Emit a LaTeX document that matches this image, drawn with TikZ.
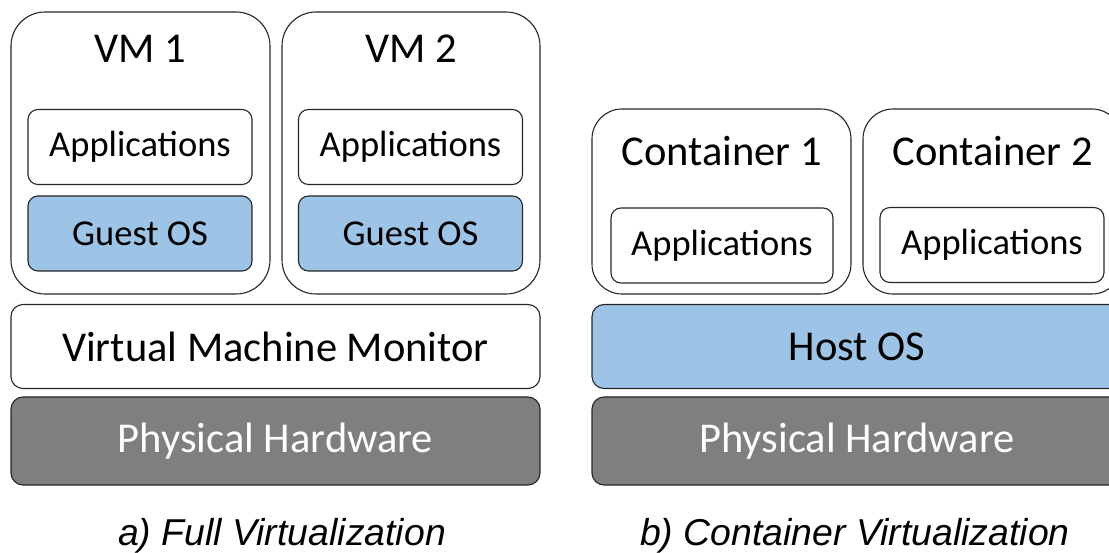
\documentclass[tikz,border=0pt]{standalone}
\usepackage{fontspec}
\setmainfont{Carlito}
\newfontfamily\capfont{Liberation Sans}
\definecolor{osblue}{HTML}{9DC3E6}
\definecolor{hwgray}{HTML}{7F7F7F}

\begin{document}
\begin{tikzpicture}[x=1pt, y=-1pt, line width=1.1pt,
    big/.style={draw=black!85, rounded corners=34pt, inner sep=0pt},
    layer/.style={draw=black!85, rounded corners=12pt, inner sep=0pt, minimum height=84pt,
                  font=\fontsize{42.5}{50}\selectfont},
    app/.style={draw=black!85, rounded corners=10pt, inner sep=0pt, minimum width=224pt,
                minimum height=75pt, font=\fontsize{36.5}{44}\selectfont},
    title/.style={anchor=base, font=\fontsize{42.5}{50}\selectfont},
    caption/.style={anchor=base, font=\capfont\itshape\fontsize{37.4}{44}\selectfont}]
                            \useasboundingbox (0,0) rectangle (1109,553);
                            \clip (0,0) rectangle (1109,553);

                            % full virtualization
                            \node[big, minimum width=259pt, minimum height=282pt] (vm1) at (140.5,153) {};
                            \node[big, minimum width=258pt, minimum height=282pt] (vm2) at (411,153) {};
                            \node[title] (vm1t) at (140.5,63) {VM 1};
                            \node[title] (vm2t) at (411,63) {VM 2};
                            \node[app] (app1) at (140,147) {Applications};
                            \node[app, fill=osblue] (guest1) at (140,233.5) {Guest OS};
                            \node[app] (app2) at (410.5,147) {Applications};
                            \node[app, fill=osblue] (guest2) at (410.5,233.5) {Guest OS};
                            \node[layer, minimum width=529pt] (vmm) at (275.5,346.5) {Virtual Machine Monitor};
                            \node[layer, minimum width=529pt, minimum height=88pt, fill=hwgray, text=white] (hw1) at (275.5,441) {Physical Hardware};
                            \node[caption] (capa) at (282,545) {a) Full Virtualization};

                            % container virtualization
                            \node[big, rounded corners=30pt, minimum width=259pt, minimum height=185pt] (ct1) at (721.5,201.5) {};
                            \node[big, rounded corners=30pt, minimum width=259pt, minimum height=185pt] (ct2) at (992.5,201.5) {};
                            \node[title] (ct1t) at (721.5,166) {Container 1};
                            \node[title] (ct2t) at (992.5,166) {Container 2};
                            \node[app, minimum width=222pt] (app3) at (722,245.5) {Applications};
                            \node[app] (app4) at (992,245) {Applications};
                            \node[layer, minimum width=530pt, fill=osblue] (host) at (857,346.5) {Host OS};
                            \node[layer, minimum width=530pt, minimum height=88pt, fill=hwgray, text=white] (hw2) at (857,441) {Physical Hardware};
                            \node[caption] (capb) at (855,545) {b) Container Virtualization};
                        \end{tikzpicture}
\end{document}
